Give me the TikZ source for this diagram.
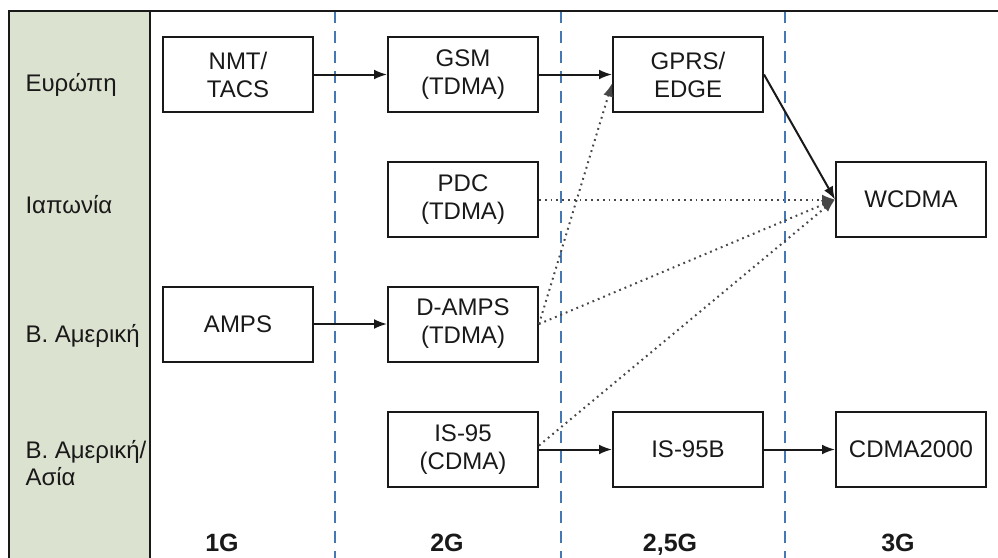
\documentclass[tikz,border=0pt]{standalone}
\usepackage{fontspec}
\setmainfont{Liberation Sans}
\usetikzlibrary{arrows.meta}
\definecolor{panelgreen}{RGB}{220,226,208}
\definecolor{eraline}{RGB}{70,120,180}
\definecolor{ink}{RGB}{25,25,25}

\begin{document}
\begin{tikzpicture}[x=1pt,y=-1pt,
  tech/.style={draw=ink,line width=2pt,minimum width=150pt,minimum height=75pt,
    inner sep=0pt,align=center,text=ink,font=\fontsize{24}{28}\selectfont},
  region/.style={anchor=base west,align=left,text=ink,font=\fontsize{24}{27}\selectfont},
  era/.style={anchor=base,text=ink,font=\fontsize{25}{28}\selectfont\bfseries},
  evolve/.style={draw=ink,line width=2pt,-{Latex[length=13pt,width=10pt]}},
  migrate/.style={draw=ink!80,line width=2pt,dash pattern=on 1.8pt off 4pt,
    -{Latex[length=13pt,width=10pt]}},
  boundary/.style={eraline,line width=2pt,dash pattern=on 12pt off 8pt}]

\useasboundingbox (0,0) rectangle (998,557);
\clip (0,0) rectangle (998,557);

% region column
\fill[panelgreen] (9,11) rectangle (150,600);
\draw[ink,line width=1.5pt] (150,11) -- (150,600);

% generation boundaries
\draw[boundary] (335,11) -- (335,600);
\draw[boundary] (561,11) -- (561,600);
\draw[boundary] (785,11) -- (785,600);

% outer frame
\draw[ink,line width=2.5pt] (9,600) -- (9,11) -- (1010,11);

% region labels
\node[region] (eu) at (22,91) {Ευρώπη};
\node[region] (jp) at (22,213) {Ιαπωνία};
\node[region] (na) at (22,342) {Β. Αμερική};
\node[region] (naa) at (22,485) {Β. Αμερική/\\Ασία};

% technologies
\node[tech] (nmt) at (238,74.5) {NMT/\\TACS};
\node[tech] (gsm) at (463,74.5) {GSM\\(TDMA)};
\node[tech] (gprs) at (688,74.5) {GPRS/\\EDGE};
\node[tech] (pdc) at (463,199.5) {PDC\\(TDMA)};
\node[tech] (wcdma) at (911,199.5) {WCDMA};
\node[tech] (amps) at (238,324) {AMPS};
\node[tech] (damps) at (463,324) {D-AMPS\\(TDMA)};
\node[tech] (is95) at (463,449.5) {IS-95\\(CDMA)};
\node[tech] (is95b) at (688,449.5) {IS-95B};
\node[tech] (cdma) at (911,449.5) {CDMA2000};

% generations
\node[era] (g1) at (222,551) {1G};
\node[era] (g2) at (447,551) {2G};
\node[era] (g25) at (670,551) {2,5G};
\node[era] (g3) at (898,551) {3G};

% direct evolution
\draw[evolve] (nmt) -- (gsm);
\draw[evolve] (gsm) -- (gprs);
\draw[evolve] (amps) -- (damps);
\draw[evolve] (is95) -- (is95b);
\draw[evolve] (is95b) -- (cdma);
\draw[evolve] (gprs.east) -- (wcdma.west);

% migration paths
\draw[migrate] (damps.east) -- ([yshift=-9pt]gprs.west);
\draw[migrate] (pdc.east) -- (wcdma.west);
\draw[migrate] (damps.east) -- (wcdma.west);
\draw[migrate] ([yshift=4pt]is95.east) -- (wcdma.west);
\end{tikzpicture}
\end{document}
